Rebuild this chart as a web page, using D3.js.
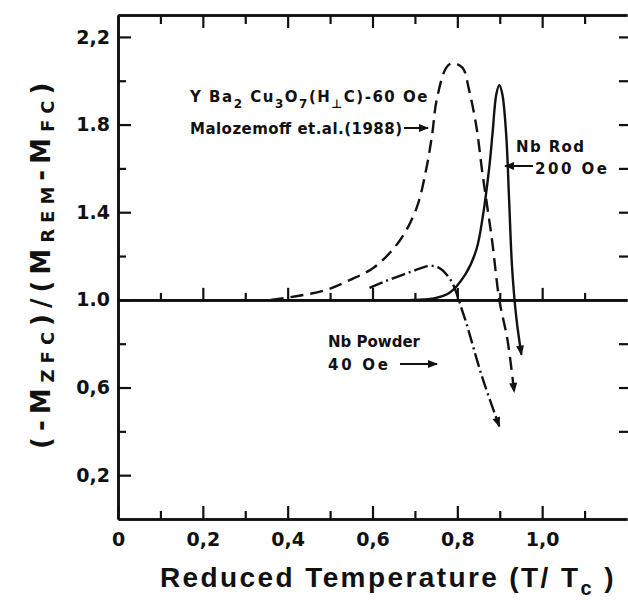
<!DOCTYPE html>
<html lang="en">
<head>
  <meta charset="UTF-8">
  <title>Reduced Temperature</title>
  <style>
    * { margin: 0; box-sizing: border-box; }
    body { background: #fff; width: 628px; height: 608px; overflow: hidden; }
    svg { display: block; font-family: 'DejaVu Sans', sans-serif; }
    .axis path, .axis line { stroke: #111; }
    .curve { fill: none; stroke: #111; stroke-width: 2.4; }
  </style>
</head>
<body>
  <svg></svg>
  <script src="https://d3js.org/d3.v7.min.js"></script>
  <script>
    // tick values + labels as printed
    const xMajor = [0, 0.2, 0.4, 0.6, 0.8, 1.0];
    const xTickLabels = ['0', '0,2', '0,4', '0,6', '0,8', '1,0'];
    const xMinor = [0.1, 0.3, 0.5, 0.7, 0.9, 1.1];
    const yMajor = [0.2, 0.6, 1.0, 1.4, 1.8, 2.2];
    const yTickLabels = ['0,2', '0,6', '1.0', '1.4', '1.8', '2,2'];
    const yMinor = [0.4, 0.8, 1.2, 1.6, 2.0];
    const yRight = [0.4, 0.6, 0.8, 1.2, 1.4, 1.6, 1.8, 2.0, 2.2];

    // Y Ba2 Cu3 O7 (H perp C) 60 Oe, Malozemoff et al. -- dashed
    const ybcoT = [0.36, 0.43, 0.49, 0.546, 0.605, 0.664, 0.704, 0.727, 0.741, 0.751, 0.774, 0.788, 0.812, 0.828, 0.845, 0.859, 0.871, 0.882, 0.899, 0.918, 0.934];
    const ybcoM = [1.0, 1.02, 1.045, 1.09, 1.15, 1.27, 1.42, 1.6, 1.76, 1.91, 2.06, 2.08, 2.06, 1.955, 1.79, 1.58, 1.42, 1.27, 1.0, 0.82, 0.58];

    // Nb rod 200 Oe -- solid
    const rodT = [0.69, 0.74, 0.78, 0.82, 0.845, 0.86, 0.875, 0.883, 0.892, 0.899, 0.906, 0.915, 0.922, 0.929, 0.939, 0.951];
    const rodM = [1.0, 1.005, 1.03, 1.12, 1.23, 1.38, 1.6, 1.76, 1.94, 1.98, 1.94, 1.76, 1.46, 1.15, 0.92, 0.75];

    // Nb powder 40 Oe -- dash-dot
    const powderT = [0.593, 0.63, 0.671, 0.70, 0.734, 0.755, 0.775, 0.79, 0.80, 0.81, 0.821, 0.859, 0.899];
    const powderM = [1.055, 1.085, 1.114, 1.135, 1.155, 1.148, 1.115, 1.07, 1.02, 0.96, 0.895, 0.645, 0.423];

    const width = 628, height = 608;
    const svg = d3.select('svg').attr('width', width).attr('height', height);

    const x = d3.scaleLinear().domain([0, 1.2]).range([118, 627]);
    const y = d3.scaleLinear().domain([0, 2.3]).range([519, 15]);

    svg.append('defs').append('marker')
      .attr('id', 'arrow')
      .attr('viewBox', '0 0 10 10')
      .attr('refX', 9).attr('refY', 5)
      .attr('markerWidth', 12).attr('markerHeight', 10)
      .attr('markerUnits', 'userSpaceOnUse')
      .attr('orient', 'auto')
      .append('path')
      .attr('d', 'M0,1 L10,5 L0,9 Z')
      .attr('fill', '#111');

    function styleAxis(g, w) {
      g.attr('class', 'axis')
        .attr('font-family', "'DejaVu Sans', sans-serif")
        .attr('font-size', 19)
        .attr('font-weight', 'bold');
      g.selectAll('path').attr('stroke-width', 2.6);
      g.selectAll('line').attr('stroke-width', w);
      g.selectAll('text').attr('fill', '#111');
    }

    // left
    svg.append('g').attr('transform', `translate(${x(0)},0)`)
      .call(d3.axisLeft(y).tickValues(yMajor).tickSize(-13).tickSizeOuter(0).tickPadding(8)
        .tickFormat((d, i) => yTickLabels[i]))
      .call(g => styleAxis(g, 2.2));
    svg.append('g').attr('transform', `translate(${x(0)},0)`)
      .call(d3.axisLeft(y).tickValues(yMinor).tickSize(-8).tickSizeOuter(0).tickFormat(''))
      .call(g => styleAxis(g, 2.2));

    // bottom
    svg.append('g').attr('transform', `translate(0,${y(0)})`)
      .call(d3.axisBottom(x).tickValues(xMajor).tickSize(-13).tickSizeOuter(0).tickPadding(14)
        .tickFormat((d, i) => xTickLabels[i]))
      .call(g => styleAxis(g, 2.2));
    svg.append('g').attr('transform', `translate(0,${y(0)})`)
      .call(d3.axisBottom(x).tickValues(xMinor).tickSize(-8).tickSizeOuter(0).tickFormat(''))
      .call(g => styleAxis(g, 2.2));

    // top
    svg.append('g').attr('transform', `translate(0,${y(2.3)})`)
      .call(d3.axisTop(x).tickValues(xMajor.slice(1)).tickSize(-13).tickSizeOuter(0).tickFormat(''))
      .call(g => styleAxis(g, 2.2));
    svg.append('g').attr('transform', `translate(0,${y(2.3)})`)
      .call(d3.axisTop(x).tickValues(xMinor).tickSize(-9).tickSizeOuter(0).tickFormat(''))
      .call(g => styleAxis(g, 2.2));

    // right frame sits just past the crop; only its ticks show
    svg.append('g').attr('transform', `translate(${x(1.2) + 3},0)`)
      .call(d3.axisRight(y).tickValues(yRight).tickSize(-11).tickSizeOuter(0).tickFormat(''))
      .call(g => styleAxis(g, 2.2));

    // reference line at 1.0 with ticks pointing up
    svg.append('g').attr('transform', `translate(0,${y(1)})`)
      .call(d3.axisTop(x).tickValues(xMajor.slice(1)).tickSize(12).tickSizeOuter(0).tickFormat(''))
      .call(g => styleAxis(g, 2.2));
    svg.append('g').attr('transform', `translate(0,${y(1)})`)
      .call(d3.axisTop(x).tickValues(xMinor).tickSize(7).tickSizeOuter(0).tickFormat(''))
      .call(g => styleAxis(g, 2.2));

    const line = d3.line()
      .x(d => x(d[0]))
      .y(d => y(d[1]))
      .curve(d3.curveCatmullRom.alpha(0.5));

    const series = [
      { t: ybcoT, m: ybcoM, dash: '13,7' },
      { t: rodT, m: rodM, dash: null },
      { t: powderT, m: powderM, dash: '14,4,2,4' }
    ];

    svg.selectAll('.curve')
      .data(series)
      .join('path')
      .attr('class', 'curve')
      .attr('d', s => line(d3.zip(s.t, s.m)))
      .attr('stroke-dasharray', s => s.dash)
      .attr('marker-end', 'url(#arrow)');

    // rich text helper: parts are [string, isSubscript]
    function richText(sel, parts, subSize, shift) {
      parts.forEach((p, i) => {
        const prevSub = i > 0 && parts[i - 1][1];
        let dy = 0;
        if (p[1] && !prevSub) dy = shift;
        if (!p[1] && prevSub) dy = -shift;
        const ts = sel.append('tspan').text(p[0]);
        if (dy) ts.attr('dy', dy);
        if (p[1]) ts.attr('font-size', subSize);
      });
    }

    // axis titles
    const xt = svg.append('text')
      .attr('x', 160).attr('y', 587)
      .attr('font-family', "'Liberation Sans', Arial, sans-serif")
      .attr('font-size', 28).attr('font-weight', 'bold')
      .attr('letter-spacing', 2.4)
      .attr('fill', '#111');
    richText(xt, [['Reduced  Temperature  (T/ T', false], ['c', true], [' )', false]], 20, 8);

    const yt = svg.append('text')
      .attr('transform', 'translate(50,449) rotate(-90)')
      .attr('font-size', 26).attr('font-weight', 'bold')
      .attr('letter-spacing', 6)
      .attr('fill', '#111');
    richText(yt, [['(-M', false], ['ZFC', true], [')/(M', false], ['REM', true], ['-M', false], ['FC', true], [')', false]], 18, 4);

    // annotations
    const ann = svg.append('g')
      .attr('font-size', 15).attr('font-weight', 'bold').attr('fill', '#111');

    const a1 = ann.append('text').attr('x', 190).attr('y', 102)
      .attr('letter-spacing', 1.5);
    richText(a1, [['Y Ba', false], ['2', true], [' Cu', false], ['3', true], ['O', false], ['7', true],
      ['(H', false], ['\u22A5', true], ['C)-60 Oe', false]], 12, 6);
    ann.append('text').attr('x', 190).attr('y', 134)
      .attr('textLength', 212).attr('lengthAdjust', 'spacing')
      .text('Malozemoff et.al.(1988)');

    ann.append('text').attr('x', 516).attr('y', 152)
      .attr('textLength', 68).attr('lengthAdjust', 'spacing').text('Nb Rod');
    ann.append('text').attr('x', 535).attr('y', 174)
      .attr('textLength', 72).attr('lengthAdjust', 'spacing').text('200 Oe');
    ann.append('text').attr('x', 328).attr('y', 347)
      .attr('textLength', 92).attr('lengthAdjust', 'spacing').text('Nb Powder');
    ann.append('text').attr('x', 328).attr('y', 370)
      .attr('textLength', 60).attr('lengthAdjust', 'spacing').text('40 Oe');

    // pointer arrows
    const pointers = [
      [[404, 128], [428, 128]],
      [[533, 166], [505, 166]],
      [[400, 364], [437, 364]]
    ];
    svg.selectAll('.pointer')
      .data(pointers)
      .join('line')
      .attr('class', 'pointer')
      .attr('x1', d => d[0][0]).attr('y1', d => d[0][1])
      .attr('x2', d => d[1][0]).attr('y2', d => d[1][1])
      .attr('stroke', '#111').attr('stroke-width', 2)
      .attr('marker-end', 'url(#arrow)');
  </script>
</body>
</html>
